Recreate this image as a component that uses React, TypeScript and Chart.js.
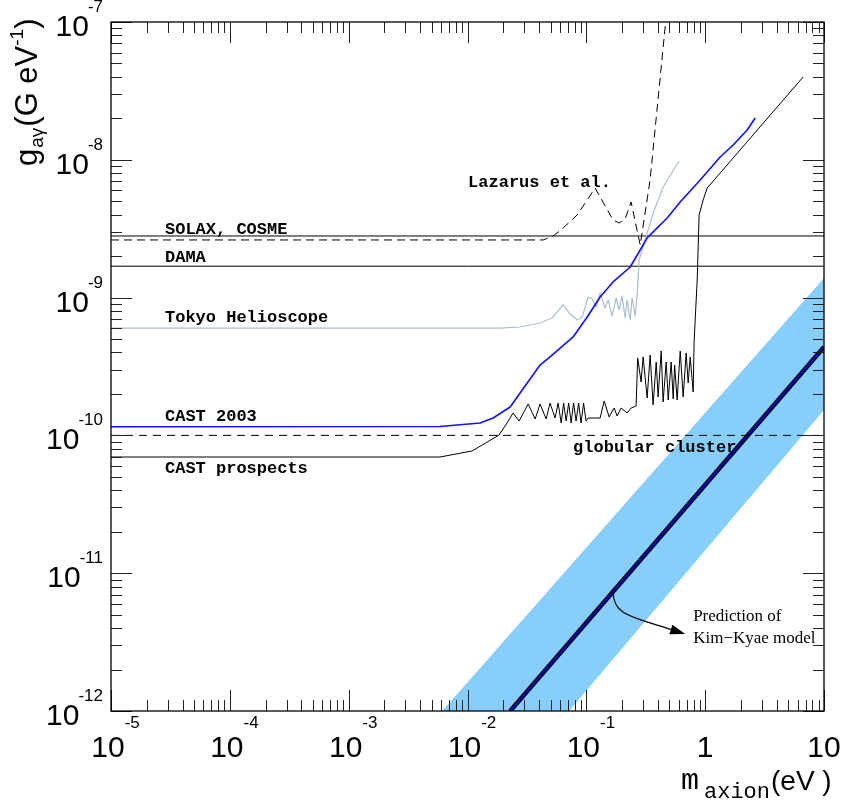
import React, { useEffect, useRef } from "react";
import { Chart, registerables } from "chart.js";
Chart.register(...registerables);

// ---- axes ----
const massRange = [1e-5, 10];
const couplingRange = [1e-12, 1e-7];
const xDecades = [1e-5, 1e-4, 1e-3, 1e-2, 1e-1, 1, 10];
const xTickBase = ["10", "10", "10", "10", "10", "1", "10"];
const xTickExp = ["-5", "-4", "-3", "-2", "-1", "", ""];
const yDecades = [1e-12, 1e-11, 1e-10, 1e-9, 1e-8, 1e-7];
const yTickBase = ["10", "10", "10", "10", "10", "10"];
const yTickExp = ["-12", "-11", "-10", "-9", "-8", "-7"];

// ---- series (m in eV, g in GeV^-1) ----
const solaxMass = [1e-5, 10];
const solaxG = [2.8e-9, 2.8e-9];

const damaMass = [1e-5, 10];
const damaG = [1.69e-9, 1.69e-9];

const globularMass = [1e-5, 10];
const globularG = [1.0e-10, 1.0e-10];

const lazarusMass = [1e-5, 0.0433, 0.0526, 0.0638, 0.0838, 0.1017, 0.1186, 0.168, 0.189, 0.212, 0.238, 0.284, 0.344, 0.465];
const lazarusG = [2.62e-9, 2.62e-9, 2.8e-9, 3.2e-9, 3.98e-9, 5.11e-9, 6.24e-9, 3.66e-9, 3.48e-9, 3.72e-9, 4.94e-9, 2.41e-9, 7.13e-9, 1e-7];

const tokyoMass = [1e-5, 0.0188, 0.0277, 0.0408, 0.0515, 0.0638, 0.0731, 0.0838, 0.0923, 0.1035, 0.112, 0.121, 0.1306, 0.144, 0.1526, 0.1648, 0.178, 0.189, 0.2, 0.212, 0.22, 0.234, 0.243, 0.258, 0.268, 0.278, 0.325, 0.365, 0.443, 0.604];
const tokyoG = [6.0e-10, 6.0e-10, 6.12e-10, 6.54e-10, 7.11e-10, 8.84e-10, 7.6e-10, 6.88e-10, 7.23e-10, 1.01e-9, 9.8e-10, 8.55e-10, 1.08e-9, 8.4e-10, 9.61e-10, 7.35e-10, 9.93e-10, 8.13e-10, 1.03e-9, 7.11e-10, 9.61e-10, 6.88e-10, 9.93e-10, 7.35e-10, 1.06e-9, 1.87e-9, 2.94e-9, 4.11e-9, 6.35e-9, 9.8e-9];

const cast2003Mass = [1e-5, 0.00587, 0.01276, 0.01643, 0.02286, 0.0318, 0.0408, 0.0495, 0.0774, 0.1017, 0.1306, 0.168, 0.234, 0.284, 0.325, 0.479, 0.616, 0.908, 1.337, 1.72, 2.257, 2.636];
const cast2003G = [1.156e-10, 1.16e-10, 1.23e-10, 1.337e-10, 1.607e-10, 2.4e-10, 3.24e-10, 3.71e-10, 5.18e-10, 7.23e-10, 1.01e-9, 1.3e-9, 1.667e-9, 2.215e-9, 2.71e-9, 3.78e-9, 4.94e-9, 7.13e-9, 1.048e-8, 1.281e-8, 1.645e-8, 2.01e-8];

const prospectsMass = [1e-5, 0.00587, 0.01094, 0.01845, 0.0215, 0.0242, 0.0272, 0.0324, 0.0371, 0.0408, 0.0459, 0.0495, 0.0546, 0.0579, 0.0614, 0.0644, 0.0676, 0.071, 0.0745, 0.0781, 0.082, 0.0861, 0.0903, 0.0948, 0.0995, 0.1035, 0.1306, 0.1413, 0.1556, 0.1714, 0.1815, 0.1963, 0.2203, 0.2382, 0.2624, 0.2704, 0.289, 0.3006, 0.325, 0.3444, 0.3648, 0.3873, 0.4018, 0.4266, 0.4426, 0.4699, 0.4887, 0.5176, 0.5383, 0.5534, 0.5808, 0.6166, 0.6531, 0.6918, 0.7194, 0.7482, 0.7925, 0.807, 0.824, 0.857, 0.889, 0.962, 1.04, 6.68];
const prospectsG = [6.97e-11, 6.97e-11, 7.71e-11, 1.007e-10, 1.23e-10, 1.454e-10, 1.272e-10, 1.69e-10, 1.315e-10, 1.69e-10, 1.315e-10, 1.718e-10, 1.337e-10, 1.718e-10, 1.23e-10, 1.718e-10, 1.272e-10, 1.718e-10, 1.23e-10, 1.718e-10, 1.272e-10, 1.718e-10, 1.23e-10, 1.718e-10, 1.272e-10, 1.337e-10, 1.337e-10, 1.777e-10, 1.36e-10, 1.581e-10, 1.383e-10, 1.581e-10, 1.454e-10, 1.581e-10, 1.634e-10, 3.65e-10, 2.44e-10, 3.71e-10, 1.868e-10, 3.83e-10, 1.663e-10, 3.41e-10, 1.9e-10, 4.1e-10, 1.748e-10, 3.41e-10, 1.807e-10, 3.41e-10, 1.836e-10, 3.24e-10, 1.807e-10, 4.1e-10, 1.9e-10, 3.96e-10, 2.4e-10, 3.71e-10, 2.065e-10, 4.76e-10, 6.88e-10, 1.343e-9, 3.98e-9, 5.11e-9, 6.24e-9, 3.99e-8];

// Kim-Kyae prediction: central line and band edges
const kkMass = [0.02286, 10];
const kkG = [1e-12, 4.385e-10];
const kkBandMass = [0.001, 10];
const kkUpperG = [1.7e-13, 1.387e-9];
const kkLowerG = [1.29e-14, 1.528e-10];

// ---- text annotations (anchor in data coords) ----
const curveLabels = [
  { text: "SOLAX, COSME", m: 2.846e-5, g: 2.893e-9 },
  { text: "DAMA", m: 2.846e-5, g: 1.813e-9 },
  { text: "Tokyo Helioscope", m: 2.846e-5, g: 6.65e-10 },
  { text: "CAST 2003", m: 2.846e-5, g: 1.272e-10 },
  { text: "CAST prospects", m: 2.846e-5, g: 5.334e-11 },
  { text: "Lazarus et al.", m: 0.01012, g: 6.35e-9 },
  { text: "globular cluster", m: 0.0774, g: 7.58e-11 },
];
const kkLabelLines = ["Prediction of", "Kim\u2212Kyae model"];
const kkLabelAnchor = { m: 0.7925, g: 4.5e-12 };
const kkLabelAnchor2 = { m: 0.7925, g: 3.114e-12 };
const arrowStart = { m: 0.168, g: 7.35e-12 };
const arrowEnd = { m: 0.679, g: 3.62e-12 };

const pts = (ms: number[], gs: number[]) => ms.map((m, i) => ({ x: m, y: gs[i] }));

const decorPlugin = {
  id: "decor",
  afterDatasetsDraw(chart: any) {
    const { ctx, chartArea: a, scales } = chart;
    const xs = scales.x;
    const ys = scales.y;
    ctx.save();

    // ticks
    const MAJ = 21;
    const MIN = 11;
    ctx.strokeStyle = "#222";
    ctx.lineWidth = 1;
    ctx.beginPath();
    xDecades.forEach((d, i) => {
      const ks = i < xDecades.length - 1 ? [1, 2, 3, 4, 5, 6, 7, 8, 9] : [1];
      ks.forEach((k) => {
        const px = Math.round(xs.getPixelForValue(k * d)) + 0.5;
        const len = k === 1 ? MAJ : MIN;
        ctx.moveTo(px, a.bottom);
        ctx.lineTo(px, a.bottom - len);
        ctx.moveTo(px, a.top);
        ctx.lineTo(px, a.top + len);
      });
    });
    yDecades.forEach((d, i) => {
      const ks = i < yDecades.length - 1 ? [1, 2, 3, 4, 5, 6, 7, 8, 9] : [1];
      ks.forEach((k) => {
        const py = Math.round(ys.getPixelForValue(k * d)) + 0.5;
        const len = k === 1 ? MAJ : MIN;
        ctx.moveTo(a.left, py);
        ctx.lineTo(a.left + len, py);
        ctx.moveTo(a.right, py);
        ctx.lineTo(a.right - len, py);
      });
    });
    ctx.stroke();

    // frame
    ctx.strokeStyle = "#000";
    ctx.lineWidth = 1.3;
    ctx.strokeRect(a.left, a.top, a.right - a.left, a.bottom - a.top);

    ctx.fillStyle = "#000";
    ctx.textAlign = "left";
    ctx.textBaseline = "alphabetic";
    const BASE = '30px "Liberation Sans", Arial, sans-serif';
    const EXP = '17px "Liberation Sans", Arial, sans-serif';

    // x tick labels
    xDecades.forEach((d, i) => {
      const px = xs.getPixelForValue(d);
      ctx.font = BASE;
      const bw = ctx.measureText(xTickBase[i]).width;
      const left = px - bw / 2 - (xTickExp[i] ? 3 : 0);
      ctx.fillText(xTickBase[i], left, a.bottom + 46);
      if (xTickExp[i]) {
        ctx.font = EXP;
        ctx.fillText(xTickExp[i], left + bw, a.bottom + 17);
      }
    });

    // y tick labels
    yDecades.forEach((d, i) => {
      const py = ys.getPixelForValue(d);
      ctx.font = EXP;
      const ew = ctx.measureText(yTickExp[i]).width;
      const expLeft = a.left - 8 - ew;
      ctx.fillText(yTickExp[i], expLeft, py - 10);
      ctx.font = BASE;
      const bw = ctx.measureText(yTickBase[i]).width;
      ctx.fillText(yTickBase[i], expLeft + 1 - bw, py + 14);
    });

    // x title: m_axion(eV )
    ctx.font = '30px "Liberation Mono", monospace';
    ctx.fillText("m", 681, 789);
    ctx.font = '22px "Liberation Mono", monospace';
    ctx.fillText("axion", 704, 798);
    ctx.font = '28px "Liberation Sans", Arial, sans-serif';
    ctx.fillText("(eV )", 771, 790);

    // y title: g_{a gamma}(G eV^-1)
    ctx.save();
    ctx.translate(37, 166);
    ctx.rotate(-Math.PI / 2);
    let cx = 0;
    const T = '31px "Liberation Sans", Arial, sans-serif';
    const S = '19px "Liberation Sans", Arial, sans-serif';
    ctx.font = T;
    ctx.fillText("g", cx, 0);
    cx += ctx.measureText("g").width + 1;
    ctx.font = S;
    ctx.fillText("a\u03b3", cx, 6);
    cx += ctx.measureText("a\u03b3").width + 1;
    ctx.font = T;
    ctx.fillText("(G eV", cx, 0);
    cx += ctx.measureText("(G eV").width;
    ctx.font = S;
    ctx.fillText("-1", cx, -14);
    cx += ctx.measureText("-1").width;
    ctx.font = T;
    ctx.fillText(")", cx, 0);
    ctx.restore();

    // curve labels
    ctx.font = 'bold 17px "Liberation Mono", "DejaVu Sans Mono", monospace';
    curveLabels.forEach((l) => {
      ctx.fillText(l.text, xs.getPixelForValue(l.m), ys.getPixelForValue(l.g));
    });

    // Kim-Kyae annotation
    ctx.font = '17px "Liberation Serif", "Times New Roman", serif';
    ctx.fillText(kkLabelLines[0], xs.getPixelForValue(kkLabelAnchor.m), ys.getPixelForValue(kkLabelAnchor.g));
    ctx.fillText(kkLabelLines[1], xs.getPixelForValue(kkLabelAnchor2.m), ys.getPixelForValue(kkLabelAnchor2.g));

    const x0 = xs.getPixelForValue(arrowStart.m);
    const y0 = ys.getPixelForValue(arrowStart.g);
    const x3 = xs.getPixelForValue(arrowEnd.m);
    const y3 = ys.getPixelForValue(arrowEnd.g);
    const dx = 1, dy = 0.32;
    const n = Math.hypot(dx, dy);
    const ux = dx / n, uy = dy / n;
    const headLen = 15;
    const bx = x3 - ux * headLen, by = y3 - uy * headLen;
    ctx.strokeStyle = "#000";
    ctx.lineWidth = 1.2;
    ctx.beginPath();
    ctx.moveTo(x0, y0);
    ctx.bezierCurveTo(x0, y0 + 23, x3 - 40 - headLen, y3 - 13 - headLen * uy, bx, by);
    ctx.stroke();
    ctx.beginPath();
    ctx.moveTo(x3, y3);
    ctx.lineTo(bx - uy * 5, by + ux * 5);
    ctx.lineTo(bx + uy * 5, by - ux * 5);
    ctx.closePath();
    ctx.fill();

    ctx.restore();
  },
};

export default function App() {
  const ref = useRef<HTMLCanvasElement>(null);
  useEffect(() => {
    const line = (data: any, color: string, width: number, extra: any = {}) => ({
      data,
      borderColor: color,
      borderWidth: width,
      pointRadius: 0,
      showLine: true,
      fill: false,
      tension: 0,
      borderJoinStyle: "round",
      ...extra,
    });
    const chart = new Chart(ref.current as HTMLCanvasElement, {
      type: "scatter",
      data: {
        datasets: [
          line(pts(cast2003Mass, cast2003G), "#1010ff", 1.6),
          line(pts(tokyoMass, tokyoG), "#a9bfcc", 1.2),
          line(pts(prospectsMass, prospectsG), "#000000", 1),
          line(pts(lazarusMass, lazarusG), "#000000", 1, { borderDash: [8, 5] }),
          line(pts(solaxMass, solaxG), "#000000", 1),
          line(pts(damaMass, damaG), "#000000", 1),
          line(pts(globularMass, globularG), "#000000", 1, { borderDash: [8, 6] }),
          line(pts(kkMass, kkG), "#0a0a9a", 2.5),
          line(pts(kkMass, kkG), "#000000", 4.5),
          line(pts(kkBandMass, kkUpperG), "rgba(0,0,0,0)", 0),
          line(pts(kkBandMass, kkLowerG), "rgba(0,0,0,0)", 0, { fill: "-1", backgroundColor: "#87cefa" }),
        ],
      },
      options: {
        animation: false,
        responsive: false,
        maintainAspectRatio: false,
        events: [],
        layout: { padding: { left: 111, top: 22, right: 24, bottom: 92 } },
        plugins: { legend: { display: false }, tooltip: { enabled: false } },
        scales: {
          x: { type: "logarithmic", min: massRange[0], max: massRange[1], display: false },
          y: { type: "logarithmic", min: couplingRange[0], max: couplingRange[1], display: false },
        },
      } as any,
      plugins: [decorPlugin],
    } as any);
    return () => chart.destroy();
  }, []);
  return (
    <div style={{ position: "absolute", left: 0, top: 0, width: 848, height: 803, background: "#fff" }}>
      <canvas ref={ref} width={848} height={803} style={{ display: "block" }} />
    </div>
  );
}
